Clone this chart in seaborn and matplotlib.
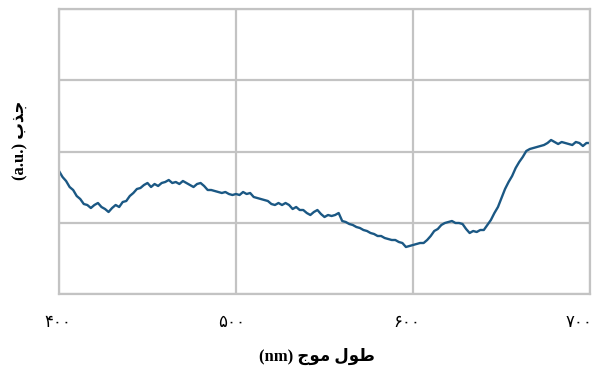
import numpy as np
import pandas as pd
import matplotlib
matplotlib.use("Agg")
import matplotlib.pyplot as plt
import matplotlib.transforms as mtransforms
import seaborn as sns

# Absorption spectrum (arbitrary units) sampled every 2 nm from 400 to 700 nm
wavelength = list(range(400, 701, 2))
absorbance = [
    123, 117, 113, 107, 104, 98, 95, 90, 89, 86,
    89, 91, 87, 85, 82, 86, 89, 87, 92, 93,
    98, 101, 105, 106, 109, 111, 107, 110, 108, 111,
    112, 114, 111, 112, 110, 113, 111, 109, 107, 110,
    111, 108, 104, 104, 103, 102, 101, 102, 100, 99,
    100, 99, 102, 100, 101, 97, 96, 95, 94, 93,
    90, 89, 91, 89, 91, 89, 85, 87, 84, 84,
    81, 79, 82, 84, 80, 77, 79, 78, 79, 81,
    73, 72, 70, 69, 67, 66, 64, 63, 61, 60,
    58, 58, 56, 55, 54, 54, 52, 51, 47, 48,
    49, 50, 51, 51, 54, 58, 63, 65, 69, 71,
    72, 73, 71, 71, 70, 65, 61, 63, 62, 64,
    64, 69, 74, 81, 87, 96, 105, 112, 118, 126,
    132, 137, 143, 145, 146, 147, 148, 149, 151, 154,
    152, 150, 152, 151, 150, 149, 152, 151, 148, 151,
    151,
]
x_ticks = [400, 500, 600, 700]
x_tick_labels = ["۴۰۰", "۵۰۰", "۶۰۰", "۷۰۰"]
y_max = 285

# Persian labels written in visual order with presentation forms
x_label = "(nm) \uFE9D\uFEEE\uFEE3 \uFEDD\uFEEE\uFEC3"
y_label = "(a.u.) \uFE8F\uFEAC\uFE9F"

df = pd.DataFrame({"wavelength": wavelength, "absorbance": absorbance})

sns.set_theme(style="white")
plt.rcParams["font.family"] = ["Liberation Serif", "DejaVu Sans"]
plt.rcParams["text.color"] = "black"
plt.rcParams["axes.labelcolor"] = "black"
plt.rcParams["xtick.color"] = "black"

fig = plt.figure(figsize=(5.93, 3.73), dpi=100)
ax = fig.add_axes([59 / 593, 79 / 373, 531 / 593, 285 / 373])

sns.lineplot(data=df, x="wavelength", y="absorbance", ax=ax,
             color="#1b5884", linewidth=1.7)

ax.set_xlim(400, 700)
ax.set_ylim(0, y_max)
ax.set_xticks(x_ticks)
ax.set_xticklabels(x_tick_labels, fontsize=12, family=["DejaVu Sans"], color="black")
ax.set_yticks(np.linspace(0, y_max, 5))
ax.set_yticklabels([])
ax.tick_params(axis="both", length=0)
ax.tick_params(axis="x", pad=14)

# nudge the tick labels slightly to the left of their grid lines
for lab, dx in zip(ax.get_xticklabels(), [-1, -4, -6, -11]):
    lab.set_transform(lab.get_transform()
                      + mtransforms.ScaledTranslation(dx / 100, 0, fig.dpi_scale_trans))

grid_color = "#c3c3c3"
ax.grid(True, color=grid_color, linewidth=1.6)
ax.set_axisbelow(True)
for side in ["left", "right", "top", "bottom"]:
    ax.spines[side].set_visible(True)
    ax.spines[side].set_color(grid_color)
    ax.spines[side].set_linewidth(1.6)

ax.set_xlabel(x_label, fontsize=12, fontweight="bold", color="black")
ax.set_ylabel(y_label, fontsize=12, fontweight="bold", color="black")
ax.xaxis.set_label_coords(0.486, -0.19)
ax.yaxis.set_label_coords(-0.058, 0.54)

fig.savefig("out.png", dpi=100)
